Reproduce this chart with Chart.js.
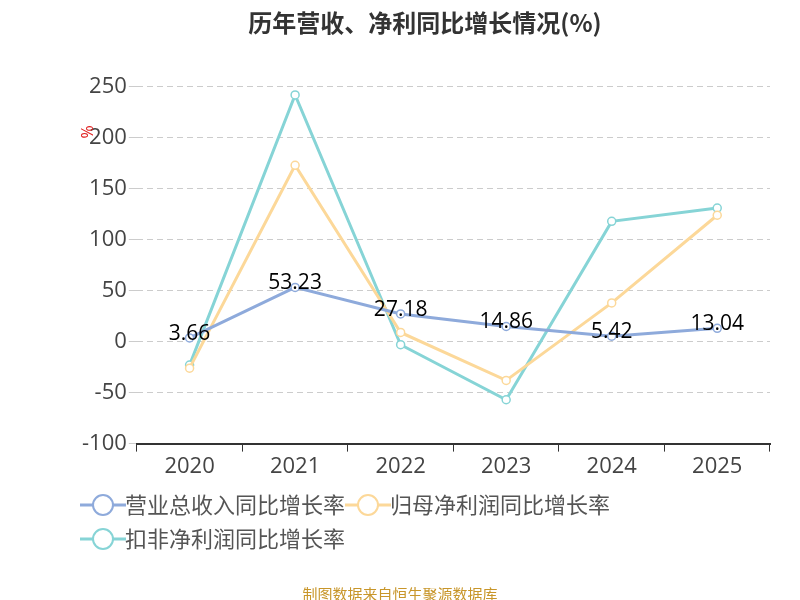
<!DOCTYPE html>
<html><head><meta charset="utf-8">
<script src="https://cdn.jsdelivr.net/npm/chart.js@4"></script>
<style>body{margin:0;background:#fff}#w{width:800px;height:600px;position:relative}</style>
</head><body><div id="w"><canvas id="c" width="800" height="600"></canvas></div>
<script>
const categories=['2020','2021','2022','2023','2024','2025'];
const revenue=[3.66,53.23,27.18,14.86,5.42,13.04];
const netProfit=[-26,173,9,-38,38,124];
const deducted=[-23,242,-3,-57,118,131];
const yTicks=[250,200,150,100,50,0,-50,-100];
const F='"Open Sans","Noto Sans CJK SC",sans-serif';
const colors=['#8eaadb','#fcd899','#86d4d6'];
function icon(c){const cv=document.createElement('canvas');cv.width=46;cv.height=26;const g=cv.getContext('2d');
g.strokeStyle=c;g.lineWidth=3;g.beginPath();g.moveTo(0,13);g.lineTo(46,13);g.stroke();
g.fillStyle='#fff';g.lineWidth=2;g.beginPath();g.arc(23,13,10,0,Math.PI*2);g.fill();g.stroke();return cv;}
const icons=colors.map(icon);
const extras={id:'extras',afterDraw(ch){
  const g=ch.ctx,m=ch.getDatasetMeta(0);
  g.save();g.font='21px '+F;g.fillStyle='#000';g.textAlign='center';g.textBaseline='middle';
  m.data.forEach((p,i)=>g.fillText(revenue[i].toFixed(2),p.x,p.y-4));
  g.fillStyle='#e02020';g.font='16px '+F;g.translate(88,132);g.rotate(-Math.PI/2);g.fillText('%',0,0);
  g.restore();
  g.save();g.font='15px "Noto Sans CJK SC",sans-serif';g.fillStyle='#c8962a';g.textAlign='center';g.fillText('制图数据来自恒生聚源数据库',400,594);g.restore();
}};
new Chart(document.getElementById('c'),{type:'line',
data:{labels:categories,datasets:[
{label:'营业总收入同比增长率',data:revenue,borderColor:colors[0],backgroundColor:'#fff',borderWidth:3,pointRadius:4,pointBorderWidth:1.5,tension:0,pointStyle:'circle'},
{label:'归母净利润同比增长率',data:netProfit,borderColor:colors[1],backgroundColor:'#fff',borderWidth:3,pointRadius:4,pointBorderWidth:1.5,tension:0},
{label:'扣非净利润同比增长率',data:deducted,borderColor:colors[2],backgroundColor:'#fff',borderWidth:3,pointRadius:4,pointBorderWidth:1.5,tension:0}]},
options:{responsive:false,animation:false,
layout:{padding:{left:80,right:30,top:8,bottom:40}},
plugins:{title:{display:true,text:'历年营收、净利同比增长情况(%)',font:{family:'"Noto Sans CJK SC",sans-serif',size:24,weight:'bold'},color:'#333',padding:{top:0,bottom:50}},
legend:{position:'bottom',align:'start',labels:{usePointStyle:true,generateLabels:ch=>ch.data.datasets.map((d,i)=>({text:d.label,pointStyle:icons[i],fontColor:'#555',datasetIndex:i,lineWidth:0,strokeStyle:'transparent',fillStyle:'transparent'})),font:{family:'"Noto Sans CJK SC",sans-serif',size:22},color:'#555',padding:12}},
tooltip:{enabled:false}},
scales:{x:{offset:true,grid:{drawOnChartArea:false,tickLength:8,color:'#333',offset:true},border:{color:'#333',width:2},ticks:{font:{family:F,size:22},color:'#444',padding:2}},
y:{min:-100,max:250,afterBuildTicks:a=>{a.ticks=yTicks.map(v=>({value:v}));},grid:{color:'#ccc',drawTicks:true,tickLength:8},border:{display:false,dash:[6,4]},ticks:{font:{family:F,size:22},color:'#444',padding:2}}}},
plugins:[extras]});
</script></body></html>
